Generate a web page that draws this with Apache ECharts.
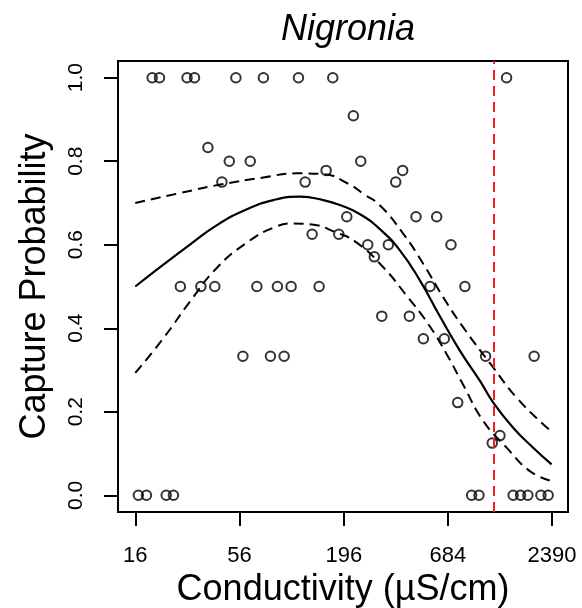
<!DOCTYPE html>
<html>
<head>
<meta charset="utf-8">
<script src="https://cdn.jsdelivr.net/npm/echarts@6/dist/echarts.min.js"></script>
<style>
html,body{margin:0;padding:0;background:#fff;}
#chart{width:582px;height:608px;}
</style>
</head>
<body>
<div id="chart"></div>
<script>
// Observed capture probabilities (conductivity in µS/cm)
var obsCond = [19.6, 21.4, 29.8, 32.6, 53.6, 74.6, 113.7, 171.7, 1386,
  219.9,
  38.3,
  49.5, 63.7, 240.3,
  158.5, 397.6,
  45.3, 123.2, 365.9,
  203.2, 466.9, 598.6,
  134, 184.6,
  261.4, 334.8, 710.7,
  282.9,
  27.5, 35.2, 41.6, 69.0, 88.3, 104.1, 145.7, 552.5, 840.4,
  309.4, 430.9,
  509.9, 656,
  58.3, 81.2, 95.7, 1077, 1931,
  770.5,
  1280,
  1167,
  16.6, 18.3, 23.2, 25.3, 911, 995, 1500, 1640, 1790, 2094, 2285];
var obsProb = [1, 1, 1, 1, 1, 1, 1, 1, 1,
  0.909,
  0.833,
  0.8, 0.8, 0.8,
  0.778, 0.778,
  0.75, 0.75, 0.75,
  0.667, 0.667, 0.667,
  0.625, 0.625,
  0.6, 0.6, 0.6,
  0.571,
  0.5, 0.5, 0.5, 0.5, 0.5, 0.5, 0.5, 0.5, 0.5,
  0.429, 0.429,
  0.375, 0.375,
  0.333, 0.333, 0.333, 0.333, 0.333,
  0.222,
  0.143,
  0.125,
  0, 0, 0, 0, 0, 0, 0, 0, 0, 0, 0];

// Fitted curve
var fitCond = [16, 22.5, 31.0, 42.7, 61.2, 84.2, 116, 153, 187.5, 238.4, 303.1, 385.4, 490, 623, 792, 1007, 1181, 1500, 1908, 2381];
var fitProb = [0.50, 0.553, 0.601, 0.647, 0.685, 0.707, 0.715, 0.707, 0.695, 0.673, 0.637, 0.586, 0.514, 0.428, 0.346, 0.274, 0.222, 0.162, 0.114, 0.074];

// Upper confidence band
var upperCond = [16, 27.5, 44.4, 74.6, 111.5, 153, 207, 248, 303.1, 401, 510, 648, 824, 1181, 1563, 2152, 2381];
var upperProb = [0.700, 0.724, 0.744, 0.761, 0.771, 0.769, 0.746, 0.722, 0.694, 0.626, 0.554, 0.474, 0.402, 0.306, 0.234, 0.170, 0.153];

// Lower confidence band
var lowerCond = [16, 22.5, 31.0, 42.7, 61.2, 84.2, 107, 130.7, 180, 229, 315, 417, 541, 675, 824, 1048, 1387, 1834, 2381];
var lowerProb = [0.293, 0.377, 0.465, 0.545, 0.605, 0.641, 0.651, 0.649, 0.629, 0.605, 0.546, 0.478, 0.410, 0.338, 0.264, 0.178, 0.114, 0.058, 0.034];

// Threshold line
var thresholdCond = 1191;

// Axis ticks
var xTickValues = [16, 56, 196, 684, 2390];
var xTickLabels = ['16', '56', '196', '684', '2390'];
var yTickValues = [0, 0.2, 0.4, 0.6, 0.8, 1.0];

var FONT = '"Liberation Sans", Arial, Helvetica, sans-serif';
function pairs(xs, ys) {
  return xs.map(function (c, i) { return [Math.log(c), ys[i]]; });
}
var xTickLn = xTickValues.map(function (v) { return Math.log(v); });
function xLabel(v) {
  var best = 0, d = Infinity;
  xTickLn.forEach(function (t, i) { var dd = Math.abs(t - v); if (dd < d) { d = dd; best = i; } });
  return xTickLabels[best];
}

var chart = echarts.init(document.getElementById('chart'), null, {renderer: 'canvas'});
var dashed = [10, 6];
chart.setOption({
  animation: false,
  backgroundColor: '#fff',
  title: {
    text: 'Nigronia',
    left: 343,
    textAlign: 'center',
    top: 7,
    textStyle: {fontFamily: FONT, fontSize: 36, fontStyle: 'italic', fontWeight: 'normal', color: '#000'}
  },
  grid: {left: 118, right: 14, top: 61, bottom: 96, containLabel: false, outerBoundsMode: 'none',
    show: true, borderColor: '#000', borderWidth: 2, backgroundColor: 'transparent'},
  xAxis: {
    type: 'value',
    min: Math.log(13.0),
    max: Math.log(2900),
    name: 'Conductivity (µS/cm)',
    nameLocation: 'middle',
    nameGap: 49,
    nameTextStyle: {fontFamily: FONT, fontSize: 36, color: '#000'},
    axisLine: {show: true, onZero: false, lineStyle: {color: '#000', width: 2}},
    axisTick: {show: true, inside: false, length: 14, lineStyle: {color: '#000', width: 2}, customValues: xTickLn},
    axisLabel: {show: true, margin: 33, fontFamily: FONT, fontSize: 22, color: '#000', customValues: xTickLn, formatter: xLabel},
    splitLine: {show: false}
  },
  yAxis: {
    type: 'value',
    min: -0.04,
    max: 1.04,
    name: 'Capture Probability',
    nameLocation: 'middle',
    nameGap: 65,
    nameTextStyle: {fontFamily: FONT, fontSize: 36, color: '#000'},
    axisLine: {show: true, onZero: false, lineStyle: {color: '#000', width: 2}},
    axisTick: {show: true, inside: false, length: 14, lineStyle: {color: '#000', width: 2}, customValues: yTickValues},
    axisLabel: {show: true, rotate: 90, margin: 31, fontFamily: FONT, fontSize: 21, color: '#000', customValues: yTickValues,
      formatter: function (v) { return v.toFixed(1); }},
    splitLine: {show: false}
  },
  series: [
    {
      type: 'line', data: pairs(upperCond, upperProb), showSymbol: false, smooth: 0.5, silent: true,
      lineStyle: {color: '#000', width: 2, type: dashed}
    },
    {
      type: 'line', data: pairs(lowerCond, lowerProb), showSymbol: false, smooth: 0.5, silent: true,
      lineStyle: {color: '#000', width: 2, type: dashed}
    },
    {
      type: 'line', data: pairs(fitCond, fitProb), showSymbol: false, smooth: 0.5, silent: true,
      lineStyle: {color: '#000', width: 2.2}
    },
    {
      type: 'scatter', data: pairs(obsCond, obsProb), symbol: 'circle', symbolSize: 9.5, silent: true,
      itemStyle: {color: 'rgba(0,0,0,0)', borderColor: '#000', borderWidth: 2},
      markLine: {
        silent: true, symbol: 'none', label: {show: false},
        lineStyle: {color: '#ff1a1a', width: 2, type: dashed},
        data: [{xAxis: Math.log(thresholdCond)}]
      }
    }
  ]
});
</script>
</body>
</html>
